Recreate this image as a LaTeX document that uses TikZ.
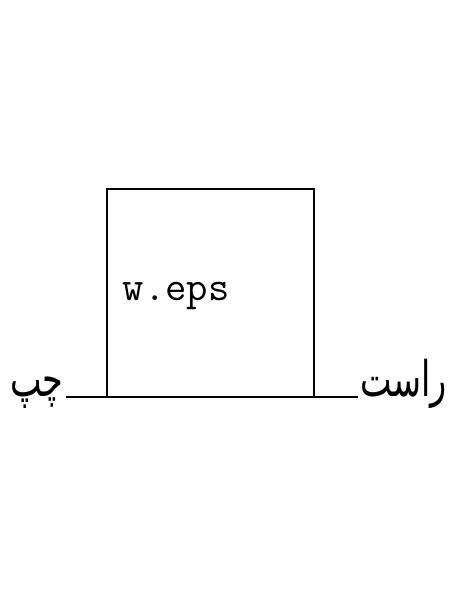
\documentclass[tikz,border=0pt]{standalone}
\usepackage{fontspec}
\newfontfamily\arabicfont[Script=Arabic, FakeStretch=0.68]{DejaVu Sans}
\TeXXeTstate=1
\usetikzlibrary{positioning}

\tikzset{
  frame/.style={draw, line width=0.6pt, minimum width=2.07cm, minimum height=2.08cm, inner sep=0pt},
  word/.style={inner sep=0.5pt, font=\arabicfont\fontsize{14}{16}\selectfont},
  fname/.style={inner sep=0pt, font=\ttfamily\fontsize{11.8}{14}\selectfont}
}

\begin{document}
\begin{tikzpicture}[scale=1.0]
  \useasboundingbox (0,0) rectangle (4.5,6.0);
  \node[frame] (box) at (2.105,3.07) {};                    %Draw the picture frame
  \node[fname, anchor=base west] (file) at (1.22,3.0) {w.eps}; %File name
  \node[word, anchor=base east] (left) at (0.66,2.03) {\beginR چپ\endR};    %Left label
  \node[word, anchor=base west] (right) at (3.58,2.03) {\beginR راست\endR}; %Right label

  \draw[line width=0.6pt] (left.base east) -- (right.base west); %Base line
\end{tikzpicture}
\end{document}
